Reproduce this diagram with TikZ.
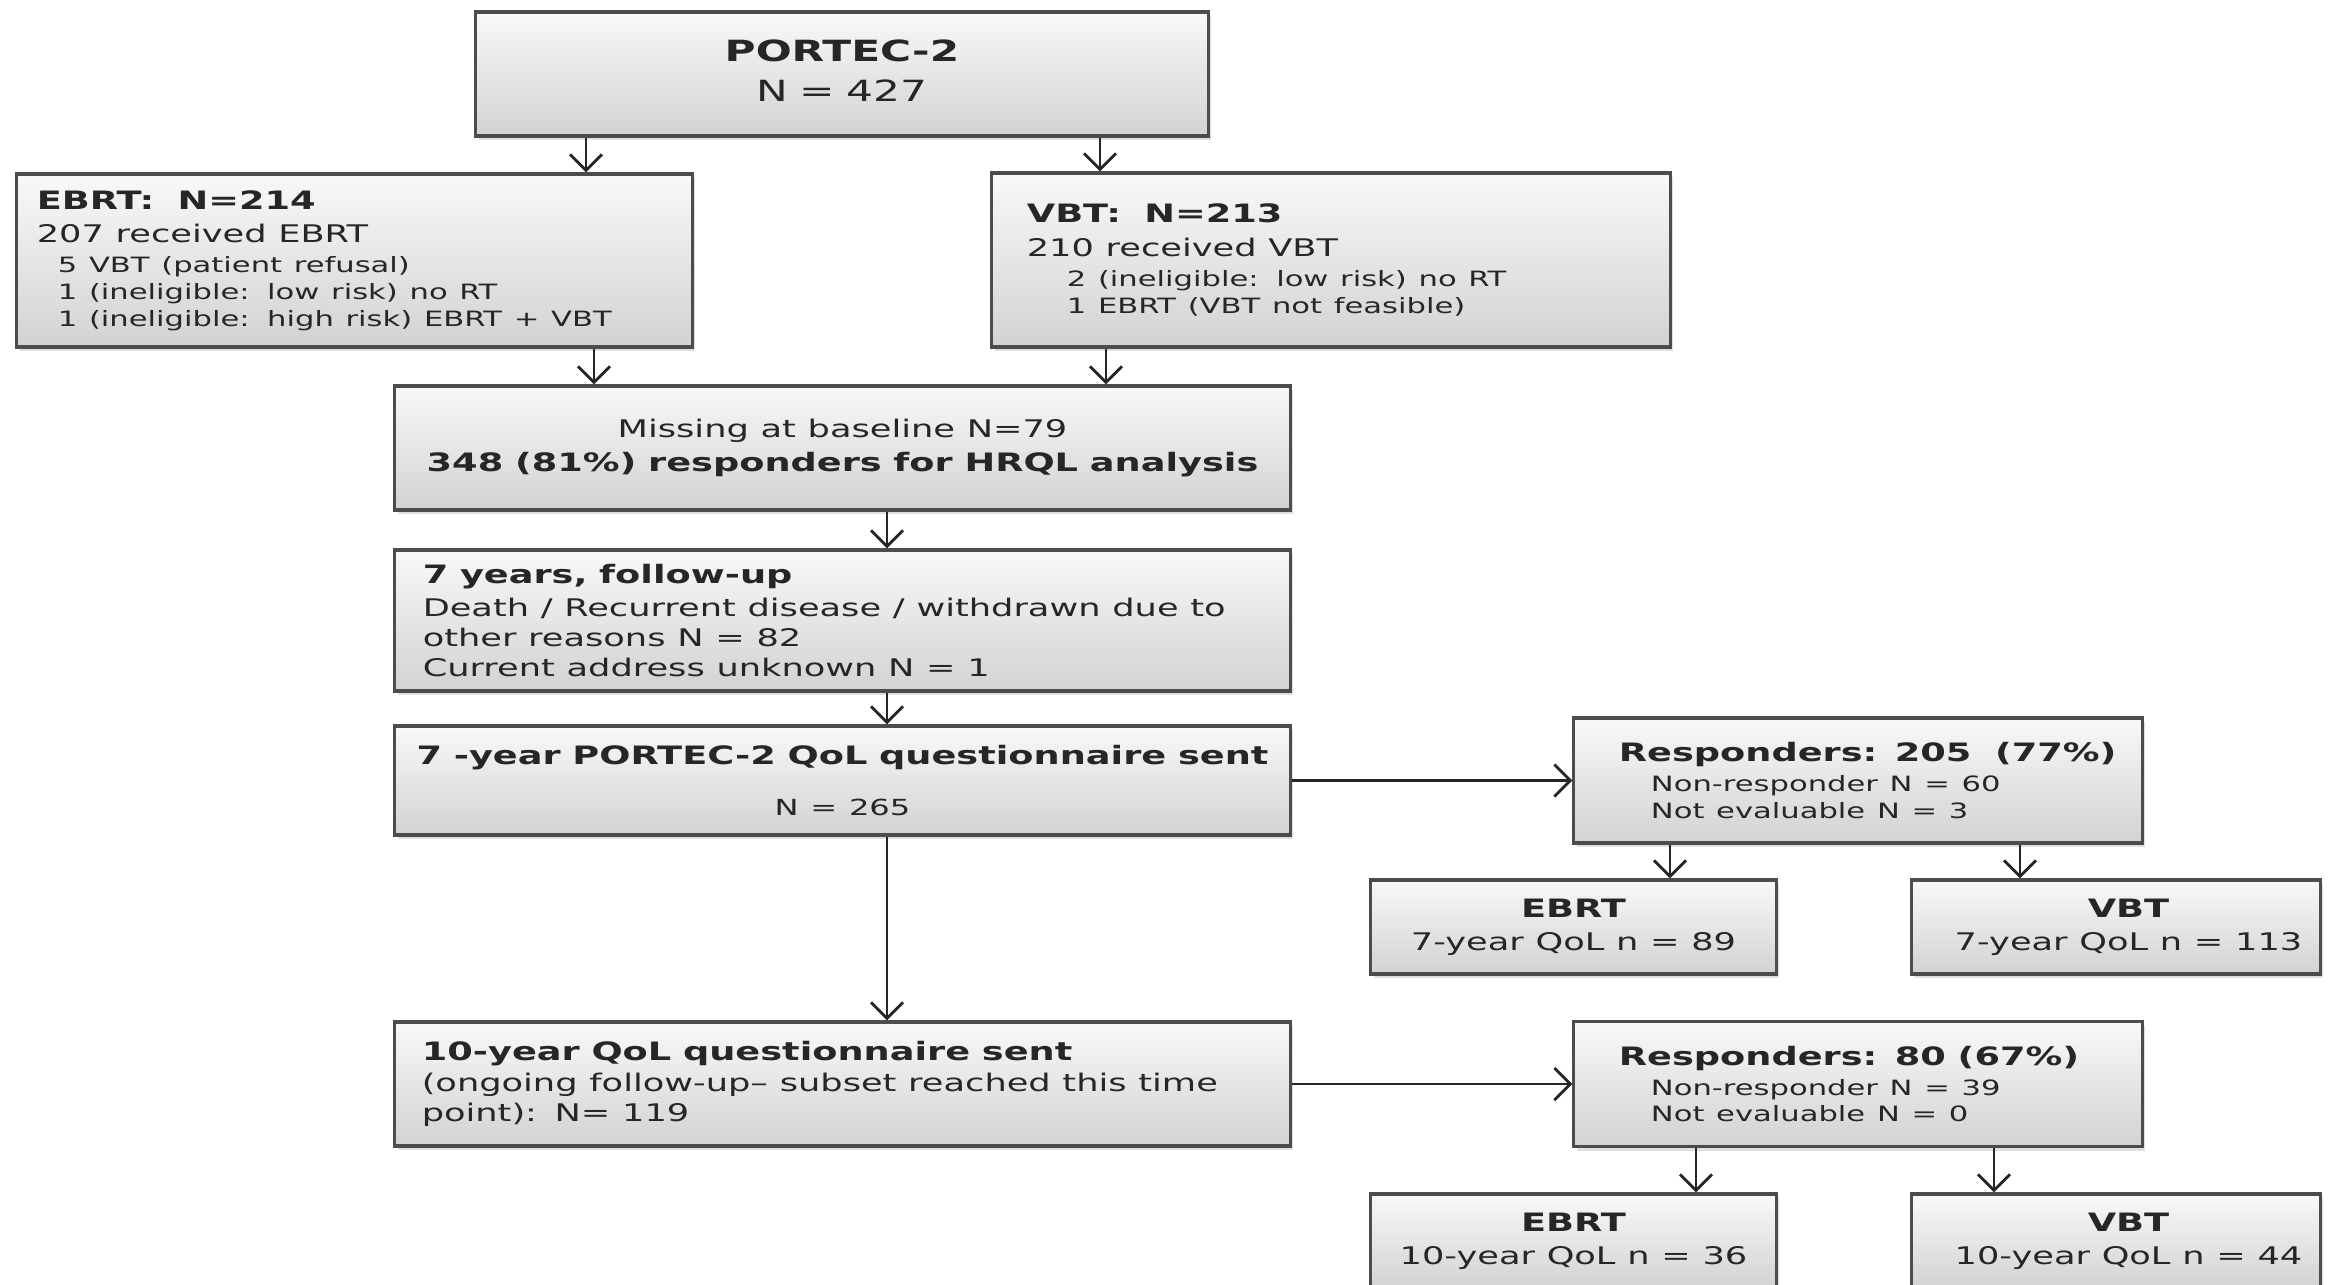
\documentclass[tikz,border=0pt]{standalone}
\usepackage{fontspec}
\setmainfont{DejaVu Sans}[FakeStretch=1.45]
\usetikzlibrary{arrows.meta,shadows}

\newcommand\headtxt{\bfseries\fontsize{7.2}{9.5}\selectfont}
\newcommand\maintxt{\mdseries\fontsize{6.9}{8.5}\selectfont}
\newcommand\smalltxt{\mdseries\fontsize{6.0}{7.6}\selectfont}

\tikzset{
  box/.style={draw=black!70, line width=0.9pt, top color=gray!5, bottom color=gray!35,
    drop shadow={opacity=0.25, shadow xshift=0.8pt, shadow yshift=-1.2pt},
    text=black!85, inner ysep=0pt},
  lbox/.style={box, align=left},
  cbox/.style={box, align=center},
  arr/.style={-{Straight Barb[length=1.6mm,width=3.2mm]}, line width=0.8pt, black!85}
}

\begin{document}
\begin{tikzpicture}[x=0.01cm,y=-0.01cm]
\useasboundingbox (0,0) rectangle (2339,1284);
\def\arrdown#1#2#3{\draw[arr] (#1.south -| #3,0) -- (#2.north -| #3,0);}

% randomisation
\node[cbox, text width=7.0cm, minimum width=7.32cm, minimum height=1.24cm] at (842,74) (portec)
  {\bfseries\fontsize{8.3}{11.4}\selectfont PORTEC-2\par
   \mdseries N = 427\par\vspace{2pt}};

\node[lbox, text width=6.35cm, inner xsep=0.2cm, minimum height=1.73cm] at (354.5,260.5) (ebrt)
  {\headtxt EBRT:\ \ N=214\par\vspace{1pt}
   \maintxt 207 received EBRT\par\vspace{1pt}
   \smalltxt\hspace*{0.21cm}5 VBT (patient refusal)\par
   \hspace*{0.21cm}1 (ineligible: low risk) no RT\par
   \hspace*{0.21cm}1 (ineligible: high risk) EBRT + VBT\par};

\node[lbox, text width=6.08cm, inner xsep=0.35cm, minimum height=1.74cm] at (1331,260) (vbt)
  {\headtxt VBT:\ \ N=213\par\vspace{1pt}
   \maintxt 210 received VBT\par\vspace{1pt}
   \smalltxt\hspace*{0.4cm}2 (ineligible: low risk) no RT\par
   \hspace*{0.4cm}1 EBRT (VBT not feasible)\par};

\arrdown{portec}{ebrt}{586}
\arrdown{portec}{vbt}{1100}

% baseline and 7 years
\node[cbox, text width=8.6cm, minimum width=8.95cm, minimum height=1.24cm] at (842.5,448) (baseline)
  {\maintxt Missing at baseline N=79\par
   \headtxt 348 (81\%) responders for HRQL analysis\par};

\arrdown{ebrt}{baseline}{594}
\arrdown{vbt}{baseline}{1106}

\node[lbox, text width=8.39cm, inner xsep=0.28cm, minimum height=1.41cm] at (842.5,620.5) (follow)
  {\headtxt 7 years, follow-up\par\vspace{1pt}
   \maintxt Death / Recurrent disease / withdrawn due to\par
   other reasons N = 82\par
   Current address unknown N = 1\par};

\node[cbox, text width=8.6cm, minimum width=8.95cm, minimum height=1.09cm] at (842.5,780.5) (quest7)
  {\headtxt 7 -year PORTEC-2 QoL questionnaire sent\par\vspace{7pt}
   \mdseries\fontsize{6.3}{7.5}\selectfont N = 265\par};

\arrdown{baseline}{follow}{887}
\arrdown{follow}{quest7}{887}

% 7-year responders
\node[lbox, text width=5.2cm, inner xsep=0.24cm, minimum height=1.25cm] at (1858,780.5) (resp7)
  {\headtxt\hspace*{0.21cm}Responders: 205\ \ (77\%)\par\vspace{1pt}
   \smalltxt\hspace*{0.53cm}Non-responder N = 60\par
   \hspace*{0.53cm}Not evaluable N = 3\par};
\draw[arr] (quest7) -- (resp7);

\node[cbox, text width=3.8cm, minimum width=4.05cm, minimum height=0.94cm] at (1573.5,927) (ebrt7)
  {\headtxt EBRT\par\vspace{1pt}
   \maintxt 7-year QoL n = 89\par};
\node[cbox, text width=3.8cm, minimum width=4.08cm, minimum height=0.94cm] at (2116,927) (vbt7)
  {\headtxt\hspace*{0.25cm}VBT\par\vspace{1pt}
   \maintxt\hspace*{0.25cm}7-year QoL n = 113\par};
\arrdown{resp7}{ebrt7}{1670}
\arrdown{resp7}{vbt7}{2020}

% 10 years
\node[lbox, text width=8.41cm, inner xsep=0.27cm, minimum height=1.24cm] at (842.5,1084) (quest10)
  {\headtxt 10-year QoL questionnaire sent\par\vspace{0.5pt}
   \maintxt (ongoing follow-up– subset reached this time\par
   point): N= 119\par};
\arrdown{quest7}{quest10}{887}

\node[lbox, text width=5.2cm, inner xsep=0.24cm, minimum height=1.25cm] at (1858,1084) (resp10)
  {\headtxt\hspace*{0.21cm}Responders: 80 (67\%)\par\vspace{1pt}
   \smalltxt\hspace*{0.53cm}Non-responder N = 39\par
   \hspace*{0.53cm}Not evaluable N = 0\par};
\draw[arr] (quest10) -- (resp10);

\node[cbox, text width=3.8cm, minimum width=4.05cm, minimum height=0.94cm] at (1573.5,1241) (ebrt10)
  {\headtxt EBRT\par\vspace{1pt}
   \maintxt 10-year QoL n = 36\par};
\node[cbox, text width=3.8cm, minimum width=4.08cm, minimum height=0.94cm] at (2116,1241) (vbt10)
  {\headtxt\hspace*{0.25cm}VBT\par\vspace{1pt}
   \maintxt\hspace*{0.25cm}10-year QoL n = 44\par};
\arrdown{resp10}{ebrt10}{1696}
\arrdown{resp10}{vbt10}{1994}
\end{tikzpicture}
\end{document}
